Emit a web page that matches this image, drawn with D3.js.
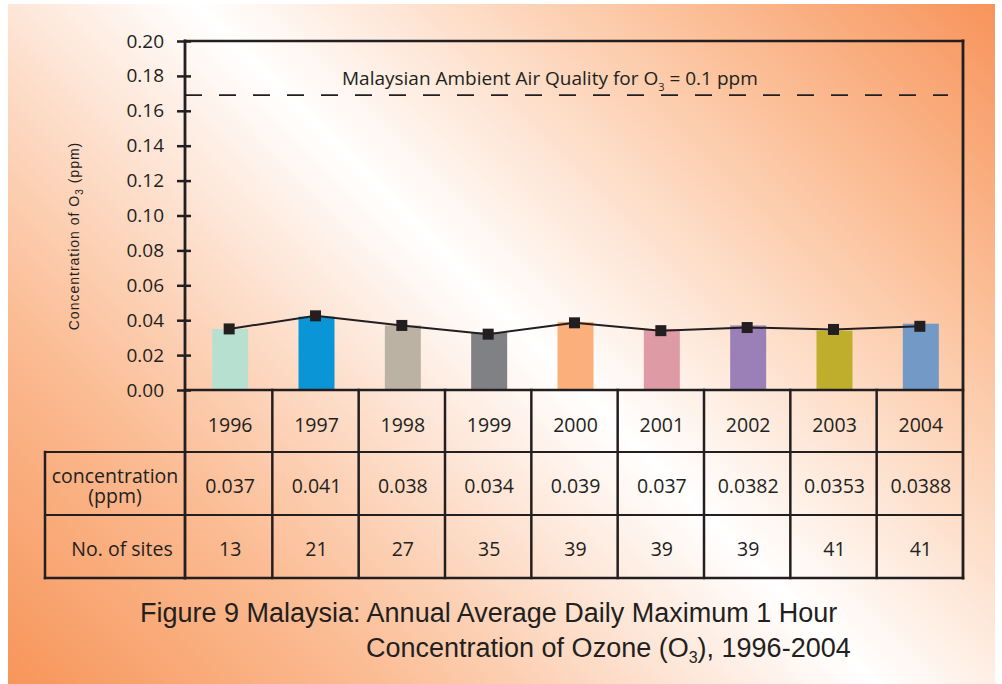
<!DOCTYPE html>
<html>
<head>
<meta charset="utf-8">
<script src="https://cdn.jsdelivr.net/npm/d3@7"></script>
<style>
  html, body { margin: 0; padding: 0; background: #fff; }
  svg { display: block; }
</style>
</head>
<body>
<div id="chart"></div>
<script>
// values
const years = ['1996', '1997', '1998', '1999', '2000', '2001', '2002', '2003', '2004'];
const barValues = [0.035, 0.042, 0.037, 0.033, 0.039, 0.035, 0.037, 0.034, 0.038];
const lineValues = [0.035, 0.0425, 0.037, 0.032, 0.0385, 0.034, 0.0358, 0.0347, 0.0365];
const concLabels = ['0.037', '0.041', '0.038', '0.034', '0.039', '0.037', '0.0382', '0.0353', '0.0388'];
const siteCounts = [13, 21, 27, 35, 39, 39, 39, 41, 41];
const barColors = ['#b8e0d0', '#0995d6', '#bbb2a4', '#808184', '#fbb07c', '#de9ba6', '#9b80b8', '#bfae2c', '#739ac6'];
const yTicks = [0, 0.02, 0.04, 0.06, 0.08, 0.10, 0.12, 0.14, 0.16, 0.18, 0.20];
const standardLevel = 0.169;

const W = 1002, H = 684;
const ink = '#231f20';
const sans = '"Open Sans", sans-serif';

const svg = d3.select('#chart').append('svg')
  .attr('width', W)
  .attr('height', H);

// -------------------
// background gradient
const grad = svg.append('defs').append('linearGradient')
  .attr('id', 'bg')
  .attr('gradientUnits', 'userSpaceOnUse')
  .attr('x1', -340).attr('y1', 340)
  .attr('x2', 497).attr('y2', -497);
[[0, '#f7955a'], [0.22, '#fbbb92'], [0.52, '#ffffff'], [0.78, '#fcc6a2'], [1, '#f7935a']]
  .forEach(([o, c]) => grad.append('stop').attr('offset', o).attr('stop-color', c));

svg.append('rect')
  .attr('x', 8).attr('y', 4)
  .attr('width', 987).attr('height', 680)
  .attr('fill', 'url(#bg)');

// -------------------
// scales
const x = d3.scaleBand().domain(years).range([186, 963]).paddingInner(0).paddingOuter(0);
const y = d3.scaleLinear().domain([0, 0.2]).range([390, 41]);
const barW = 36;

// bars
svg.append('g').selectAll('rect')
  .data(years)
  .enter()
  .append('rect')
  .attr('x', d => x(d) + x.bandwidth() / 2 - barW / 2 + 1)
  .attr('y', (d, i) => y(barValues[i]))
  .attr('width', barW)
  .attr('height', (d, i) => y(0) - y(barValues[i]))
  .attr('fill', (d, i) => barColors[i]);

// standard line
svg.append('line')
  .attr('x1', 185).attr('x2', 948)
  .attr('y1', y(standardLevel)).attr('y2', y(standardLevel))
  .attr('stroke', ink)
  .attr('stroke-width', 1.6)
  .attr('stroke-dasharray', '17,17');

const std = svg.append('text')
  .attr('x', 342).attr('y', 85)
  .attr('fill', ink)
  .style('font-family', sans)
  .style('font-size', '19px');
std.append('tspan').text('Malaysian Ambient Air Quality for O');
std.append('tspan').attr('dy', 6).style('font-size', '11px').text('3');
std.append('tspan').attr('dy', -6).text(' = 0.1 ppm');

// trend line + markers
const line = d3.line()
  .x((d, i) => x(years[i]) + x.bandwidth() / 2)
  .y(d => y(d));

svg.append('path')
  .datum(lineValues)
  .attr('d', line)
  .attr('fill', 'none')
  .attr('stroke', ink)
  .attr('stroke-width', 2);

svg.append('g').selectAll('rect')
  .data(lineValues)
  .enter()
  .append('rect')
  .attr('x', (d, i) => x(years[i]) + x.bandwidth() / 2 - 5.5)
  .attr('y', d => y(d) - 5.5)
  .attr('width', 11)
  .attr('height', 11)
  .attr('fill', ink);

// -------------------
// y axis
const yAxis = d3.axisLeft(y)
  .tickValues(yTicks)
  .tickFormat(d3.format('.2f'))
  .tickSizeInner(8)
  .tickSizeOuter(0)
  .tickPadding(13);

const ya = svg.append('g')
  .attr('transform', 'translate(185,0)')
  .call(yAxis);
ya.select('.domain').remove();
ya.selectAll('.tick line')
  .attr('x2', -8).attr('x1', 6)
  .attr('stroke', ink)
  .attr('stroke-width', 2.5);
ya.selectAll('.tick text')
  .attr('fill', ink)
  .style('font-family', sans)
  .style('font-size', '19px');

const yl = svg.append('text')
  .attr('transform', 'translate(79,236) rotate(-90)')
  .attr('text-anchor', 'middle')
  .attr('fill', ink)
  .style('font-family', '"Liberation Sans", Arial, sans-serif')
  .style('font-size', '14px')
  .style('letter-spacing', '1px');
yl.append('tspan').text('Concentration of O');
yl.append('tspan').attr('dy', 4).style('font-size', '10px').text('3');
yl.append('tspan').attr('dy', -4).text(' (ppm)');

// -------------------
// frame and table grid
const rowY = [390, 452, 515, 578];
const grid = svg.append('g').attr('stroke', ink).attr('stroke-linecap', 'square');

grid.append('line').attr('x1', 185).attr('x2', 185).attr('y1', 41).attr('y2', 578).attr('stroke-width', 2.8);
grid.append('line').attr('x1', 963).attr('x2', 963).attr('y1', 41).attr('y2', 578).attr('stroke-width', 2.8);
grid.append('line').attr('x1', 185).attr('x2', 963).attr('y1', 41).attr('y2', 41).attr('stroke-width', 2.5);
grid.append('line').attr('x1', 45).attr('x2', 45).attr('y1', rowY[1]).attr('y2', rowY[3]).attr('stroke-width', 2.5);

grid.selectAll('line.col')
  .data(years.slice(1))
  .enter()
  .append('line')
  .attr('class', 'col')
  .attr('x1', d => x(d)).attr('x2', d => x(d))
  .attr('y1', rowY[0]).attr('y2', rowY[3])
  .attr('stroke-width', 2.5);

grid.selectAll('line.row')
  .data(rowY)
  .enter()
  .append('line')
  .attr('class', 'row')
  .attr('x1', (d, i) => i === 0 ? 185 : 45)
  .attr('x2', 963)
  .attr('y1', d => d).attr('y2', d => d)
  .attr('stroke-width', (d, i) => i === 0 || i === 3 ? 2.5 : 2);

// table text
const tableSize = '19.5px';
const cellText = (vals, cy) => svg.append('g').selectAll('text')
  .data(vals)
  .enter()
  .append('text')
  .attr('x', (d, i) => x(years[i]) + x.bandwidth() / 2 + 1)
  .attr('y', cy)
  .attr('text-anchor', 'middle')
  .attr('dominant-baseline', 'central')
  .attr('fill', ink)
  .style('font-family', sans)
  .style('font-size', tableSize)
  .text(d => d);

cellText(years, 424);
cellText(concLabels, 485);
cellText(siteCounts, 548);

// row headers (two-line header kept in one text element)
const concHead = svg.append('text')
  .attr('text-anchor', 'middle')
  .attr('fill', ink)
  .style('font-family', sans)
  .style('font-size', tableSize);
concHead.append('tspan').attr('x', 115).attr('y', 483).text('concentration');
concHead.append('tspan').attr('x', 115).attr('dy', 20).text('(ppm)');

svg.append('text')
  .attr('x', 122).attr('y', 548)
  .attr('text-anchor', 'middle')
  .attr('dominant-baseline', 'central')
  .attr('fill', ink)
  .style('font-family', sans)
  .style('font-size', tableSize)
  .text('No. of sites');

// -------------------
// title
const titleFont = '"Liberation Sans", Arial, sans-serif';
svg.append('text')
  .attr('x', 140).attr('y', 622)
  .attr('fill', ink)
  .style('font-family', titleFont)
  .style('font-size', '27px')
  .text('Figure 9 Malaysia: Annual Average Daily Maximum 1 Hour');

const t2 = svg.append('text')
  .attr('x', 366).attr('y', 657)
  .attr('fill', ink)
  .style('font-family', titleFont)
  .style('font-size', '27px');
t2.append('tspan').text('Concentration of Ozone (O');
t2.append('tspan').attr('dy', 6).style('font-size', '16px').text('3');
t2.append('tspan').attr('dy', -6).text('), 1996-2004');
</script>
</body>
</html>
